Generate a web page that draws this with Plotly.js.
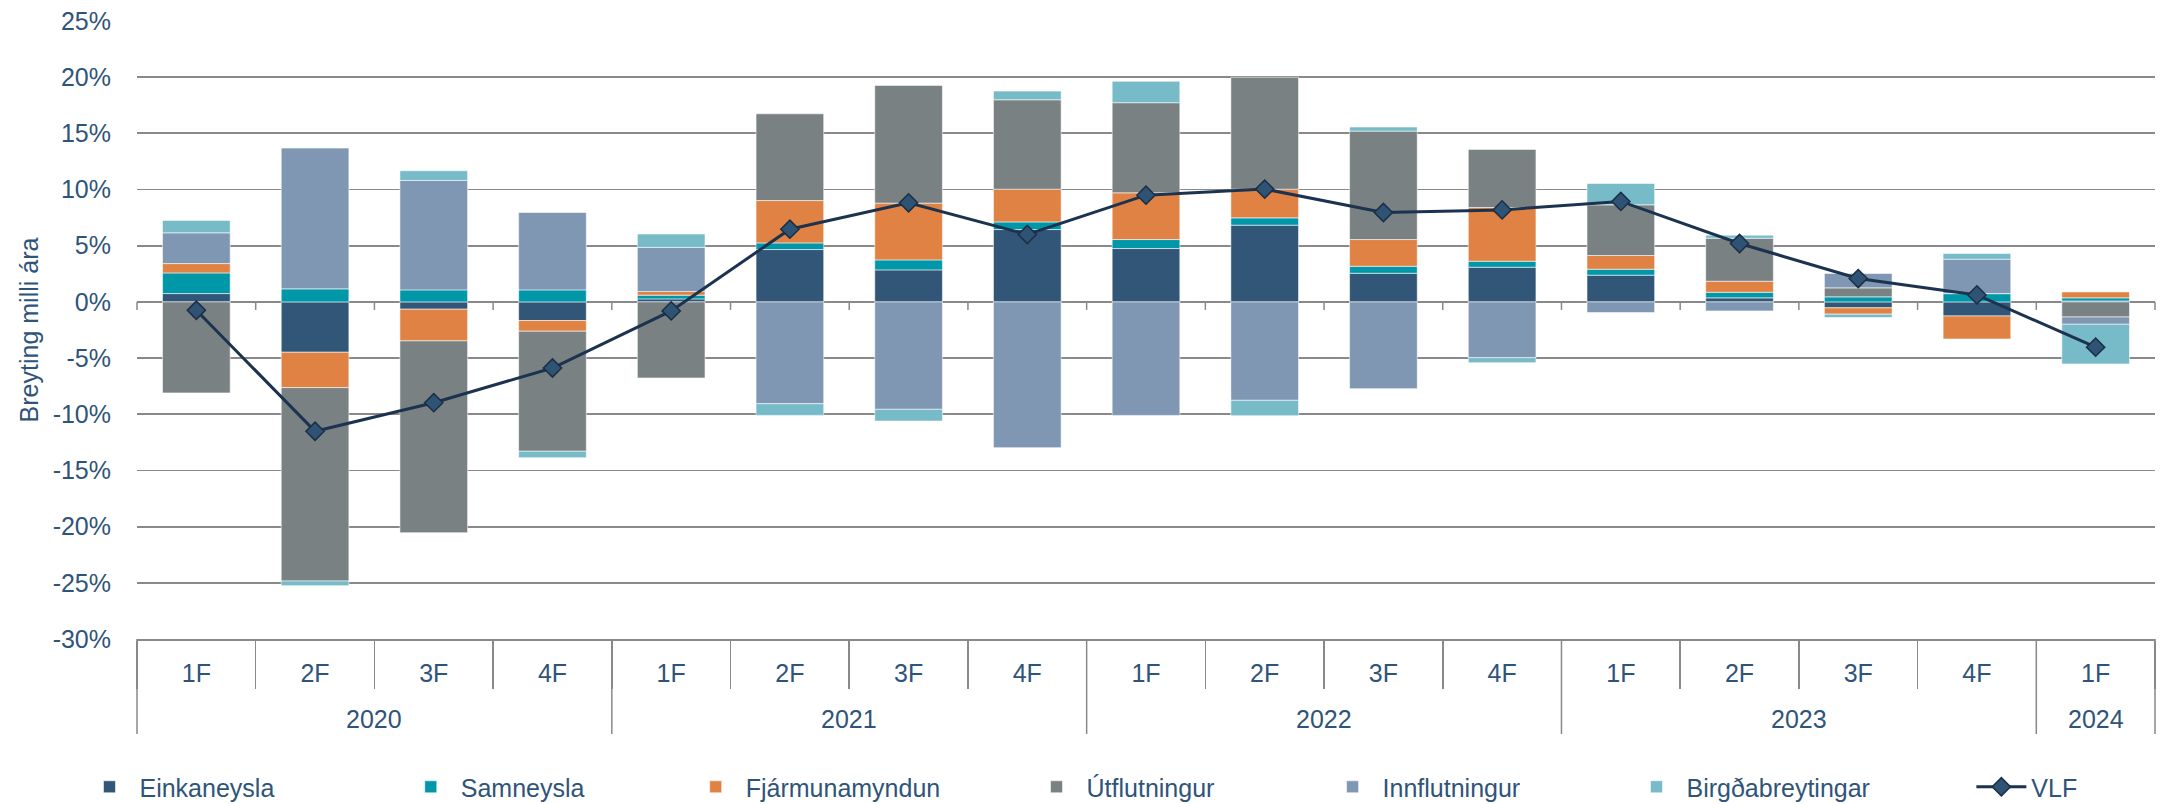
<!DOCTYPE html>
<html>
<head>
<meta charset="utf-8">
<script src="https://cdn.plot.ly/plotly-3.0.1.min.js"></script>
<style>
  html, body { margin: 0; padding: 0; background: #ffffff; }
  #chart { width: 2165px; height: 804px; }
</style>
</head>
<body>
<div id="chart"></div>
<script>
// ---- Data ----
const years    = ["2020","2020","2020","2020","2021","2021","2021","2021","2022","2022","2022","2022","2023","2023","2023","2023","2024"];
const quarters = ["1F","2F","3F","4F","1F","2F","3F","4F","1F","2F","3F","4F","1F","2F","3F","4F","1F"];

const einkaneysla      = [0.74, -4.48, -0.65, -1.66, 0.27, 4.66, 2.85, 6.44, 4.75, 6.83, 2.55, 3.09, 2.38, 0.36, -0.53, -1.25, 0.09];
const samneysla        = [1.84, 1.16, 1.07, 1.07, 0.33, 0.59, 0.89, 0.68, 0.80, 0.65, 0.62, 0.53, 0.53, 0.50, 0.45, 0.74, 0.27];
const fjarmunamyndun   = [0.83, -3.15, -2.82, -0.95, 0.33, 3.77, 5.05, 2.91, 4.16, 2.55, 2.38, 4.78, 1.22, 0.98, -0.56, -2.05, 0.53];
const utflutningur     = [-8.10, -17.21, -17.07, -10.68, -6.77, 7.72, 10.48, 7.96, 8.02, 9.96, 9.65, 5.17, 4.51, 3.83, 0.80, 0.00, -1.34];
const innflutningur    = [2.74, 12.53, 9.74, 6.89, 3.92, -9.06, -9.56, -12.97, -10.10, -8.76, -7.72, -4.96, -0.95, -0.80, 1.28, 3.06, -0.65];
const birgdabreytingar = [1.10, -0.41, 0.86, -0.57, 1.19, -1.04, -1.04, 0.77, 1.90, -1.37, 0.36, -0.45, 1.90, 0.27, -0.30, 0.50, -3.53];
const vlf              = [-0.74, -11.51, -8.97, -5.88, -0.80, 6.47, 8.82, 6.00, 9.50, 10.04, 7.96, 8.19, 8.94, 5.20, 2.08, 0.62, -4.03];

const seriesNames  = ["Einkaneysla", "Samneysla", "Fjármunamyndun", "Útflutningur", "Innflutningur", "Birgðabreytingar"];
const seriesValues = [einkaneysla, samneysla, fjarmunamyndun, utflutningur, innflutningur, birgdabreytingar];
const seriesColors = ["#325677", "#0097a9", "#df8243", "#7a8183", "#7f97b2", "#77bbc8"];

const yTicks = [-30, -25, -20, -15, -10, -5, 0, 5, 10, 15, 20, 25];

// ---- Styling ----
const FONT = "Liberation Sans, Arial, sans-serif";
const TXT = "#2f5479";
const GRID = "#898989";
// horizontal placement (paper units) of each legend entry
const legendX = [-0.0285, 0.1307, 0.2719, 0.4408, 0.5875, 0.7381, 0.909];

// category positions along the axis (one slot per quarter)
const nCat = quarters.length;
const pos = quarters.map((q, i) => i);
const boundaries = [];
for (let k = 0; k <= nCat; k++) boundaries.push(k - 0.5);

// year groups derived from the years array
const yearGroups = [];
years.forEach((y, i) => {
  const g = yearGroups[yearGroups.length - 1];
  if (g && g.year === y) g.last = i; else yearGroups.push({ year: y, first: i, last: i });
});

const legendId = i => (i === 0 ? "legend" : "legend" + (i + 1));

const traces = seriesNames.map((name, i) => ({
  type: "bar",
  name: name,
  x: pos,
  y: seriesValues[i],
  legend: legendId(i),
  marker: { color: seriesColors[i], line: { color: "rgba(255,255,255,0.55)", width: 1 } },
  hoverinfo: "skip"
}));

traces.push({
  type: "scatter",
  mode: "lines+markers",
  name: "VLF",
  x: pos,
  y: vlf,
  legend: legendId(6),
  line: { color: "#1c3350", width: 3 },
  marker: { symbol: "diamond", size: 14, color: "#2f5375", line: { color: "#1b2e45", width: 1.5 } },
  hoverinfo: "skip"
});

const shapes = [];
// small tick marks on the zero line at each category boundary
for (let k = 0; k <= nCat; k++) {
  shapes.push({
    type: "line", layer: "below",
    xref: "paper", x0: k / nCat, x1: k / nCat,
    yref: "y", ysizemode: "pixel", yanchor: 0, y0: 0, y1: -8,
    line: { color: GRID, width: 1.5 }
  });
}
// year dividers below the axis (through both label rows)
const yearBounds = [0].concat(yearGroups.map(g => g.last + 1));
yearBounds.forEach(b => {
  shapes.push({
    type: "line", layer: "above",
    xref: "paper", x0: b / nCat, x1: b / nCat,
    yref: "paper", ysizemode: "pixel", yanchor: 0, y0: 0, y1: -95,
    line: { color: GRID, width: 1.5 }
  });
});

// year labels centred under their quarters
const annotations = yearGroups.map(g => ({
  xref: "x", x: (g.first + g.last) / 2,
  yref: "paper", y: 0, yanchor: "middle", yshift: -80,
  text: g.year, showarrow: false,
  font: { family: FONT, size: 25, color: TXT }
}));

const layout = {
  width: 2165,
  height: 804,
  margin: { l: 137, r: 10, t: 21, b: 165 },
  paper_bgcolor: "#ffffff",
  plot_bgcolor: "#ffffff",
  barmode: "relative",
  bargap: 0.43,
  font: { family: FONT, size: 25, color: TXT },
  showlegend: true,
  xaxis: {
    type: "linear",
    range: [-0.5, nCat - 0.5],
    autorange: false,
    tickmode: "array",
    tickvals: pos,
    ticktext: quarters,
    ticks: "",
    ticklabelstandoff: 11,
    minor: {
      tickmode: "array",
      tickvals: boundaries,
      ticks: "outside",
      ticklen: 48,
      tickwidth: 1.5,
      tickcolor: GRID,
      showgrid: false
    },
    showline: true,
    linecolor: GRID,
    linewidth: 1.5,
    showgrid: false,
    zeroline: false,
    tickfont: { family: FONT, size: 25, color: TXT }
  },
  yaxis: {
    range: [-30, 25],
    autorange: false,
    tickmode: "array",
    tickvals: yTicks,
    ticktext: yTicks.map(v => v + "%"),
    showgrid: true,
    gridcolor: GRID,
    gridwidth: 1.8,
    zeroline: true,
    zerolinecolor: GRID,
    zerolinewidth: 1.8,
    showline: false,
    ticks: "outside",
    ticklen: 20,
    tickcolor: "rgba(0,0,0,0)",
    tickfont: { family: FONT, size: 25, color: TXT },
    title: { text: "Breyting milli ára", font: { family: FONT, size: 25, color: TXT }, standoff: 6 }
  },
  shapes: shapes,
  annotations: annotations
};

// one legend per entry so each can sit where the reference puts it
legendX.forEach((lx, i) => {
  layout[legendId(i)] = {
    orientation: "h",
    xref: "paper", x: lx, xanchor: "left",
    yref: "container", y: 0.0211, yanchor: "middle",
    font: { family: FONT, size: 25, color: TXT },
    bgcolor: "rgba(0,0,0,0)",
    itemwidth: 50
  };
});

Plotly.newPlot("chart", traces, layout, { displayModeBar: false, staticPlot: true });
</script>
</body>
</html>
